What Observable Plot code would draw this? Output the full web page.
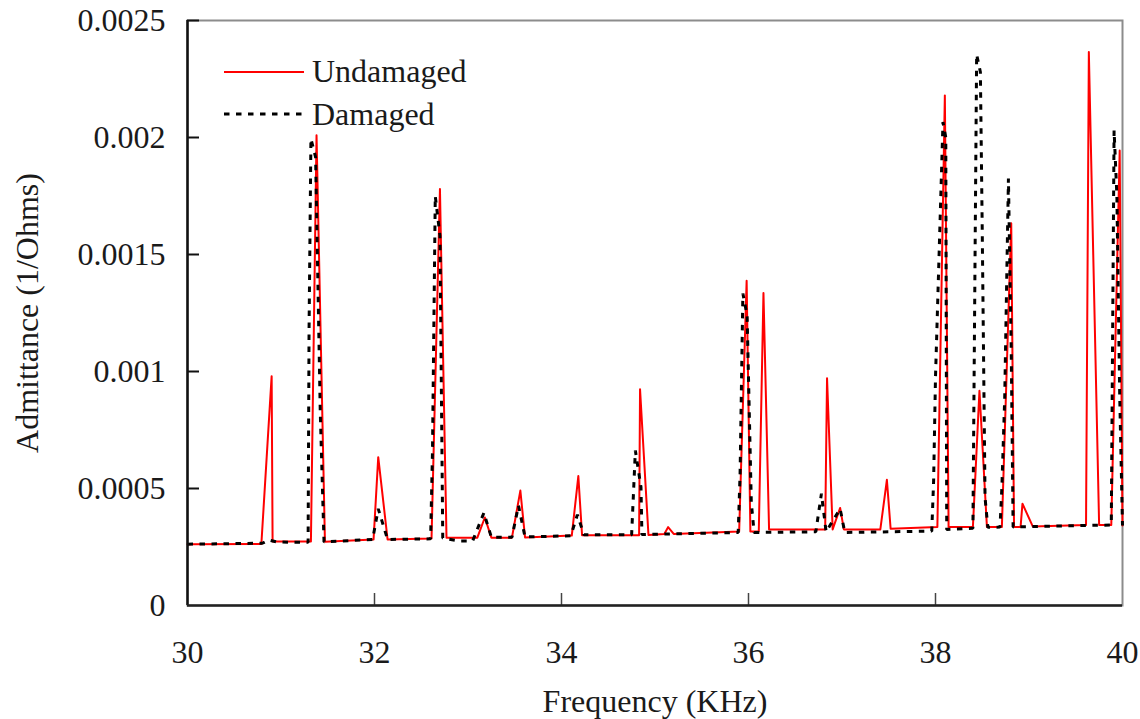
<!DOCTYPE html>
<html><head><meta charset="utf-8">
<script src="https://cdn.jsdelivr.net/npm/d3@7"></script>
<script src="https://cdn.jsdelivr.net/npm/@observablehq/plot@0.6"></script>
<style>
html,body{margin:0;padding:0;background:#fff;}
#wrap{position:relative;width:1140px;height:719px;overflow:hidden;}
#legend{position:absolute;left:220px;top:50px;}
</style></head><body><div id="wrap"></div>
<script>
// ---- data ----
const undamagedFreq = [30.00,30.79,30.90,30.91,31.32,31.38,31.47,31.99,32.04,32.14,32.61,32.70,32.77,33.10,33.18,33.25,33.47,33.56,33.61,34.11,34.18,34.22,34.83,34.84,34.93,35.10,35.14,35.20,35.90,35.98,36.02,36.11,36.16,36.22,36.82,36.84,36.90,36.98,37.02,37.41,37.48,37.52,38.02,38.10,38.14,38.40,38.47,38.55,38.71,38.81,38.84,38.91,38.93,39.04,39.61,39.64,39.75,39.88,39.97,40.00];
const undamagedAdm = [0.000262,0.000263,0.000980,0.000274,0.000274,0.002010,0.000272,0.000282,0.000634,0.000282,0.000286,0.001780,0.000290,0.000290,0.000376,0.000290,0.000290,0.000491,0.000291,0.000299,0.000553,0.000300,0.000300,0.000924,0.000301,0.000306,0.000335,0.000306,0.000316,0.001388,0.000316,0.000316,0.001335,0.000325,0.000325,0.000971,0.000325,0.000417,0.000325,0.000325,0.000537,0.000328,0.000336,0.002180,0.000336,0.000336,0.000918,0.000336,0.000336,0.001634,0.000336,0.000336,0.000435,0.000338,0.000344,0.002365,0.000344,0.000344,0.001944,0.000342];

const damagedFreq = [30.00,30.80,30.87,30.95,31.12,31.29,31.30,31.32,31.37,31.42,31.46,31.98,32.04,32.14,32.60,32.62,32.65,32.70,32.73,32.90,33.05,33.17,33.25,33.47,33.54,33.61,34.10,34.17,34.24,34.75,34.79,34.85,34.86,35.89,35.91,35.94,35.985,36.03,36.06,36.72,36.78,36.83,36.98,37.03,37.96,37.98,38.00,38.08,38.11,38.12,38.40,38.41,38.44,38.48,38.50,38.53,38.56,38.69,38.71,38.74,38.78,38.81,38.83,39.10,39.88,39.91,39.94,39.97,40.00];
const damagedAdm = [0.000262,0.000266,0.000280,0.000272,0.000270,0.000270,0.001175,0.001995,0.001916,0.000826,0.000272,0.000282,0.000413,0.000282,0.000285,0.000655,0.001750,0.001580,0.000288,0.000276,0.000276,0.000396,0.000292,0.000292,0.000427,0.000293,0.000298,0.000388,0.000302,0.000302,0.000662,0.000506,0.000303,0.000312,0.000564,0.001333,0.001240,0.000440,0.000312,0.000315,0.000478,0.000315,0.000413,0.000312,0.000318,0.000534,0.000976,0.002066,0.002000,0.000325,0.000330,0.000826,0.002355,0.002280,0.001600,0.000460,0.000334,0.000335,0.000506,0.000883,0.001825,0.001090,0.000336,0.000338,0.000344,0.002030,0.001750,0.000900,0.000342];

const xTicks = [30,32,34,36,38,40];
const yTicks = [0,0.0005,0.001,0.0015,0.002,0.0025];
const seriesNames = ["Undamaged","Damaged"];
const xTitle = "Frequency (KHz)";
const yTitle = "Admittance (1/Ohms)";

const undamaged = undamagedFreq.map((f,i)=>({f, a: undamagedAdm[i]}));
const damaged = damagedFreq.map((f,i)=>({f, a: damagedAdm[i]}));

const font = "'Liberation Serif','Times New Roman',serif";
const yFmt = d => d === 0 ? "0" : String(parseFloat(d.toFixed(4)));

const chart = Plot.plot({
  width: 1140, height: 719,
  marginLeft: 187, marginRight: 18, marginTop: 20, marginBottom: 114,
  style: {fontFamily: font, fontSize: "32px", color: "#1a1a1a", background: "#fff", overflow: "visible"},
  x: {domain: [xTicks[0], xTicks[xTicks.length-1]]},
  y: {domain: [yTicks[0], yTicks[yTicks.length-1]]},
  marks: [
    Plot.frame({stroke: "#8c8c8c", strokeWidth: 2}),
    Plot.line(undamaged, {x: "f", y: "a", stroke: "#ff0000", strokeWidth: 2}),
    Plot.line(damaged, {x: "f", y: "a", stroke: "#000", strokeWidth: 3, strokeDasharray: "5.5,6.5", strokeLinecap: "butt", strokeLinejoin: "miter"}),
    Plot.ruleX(xTicks.slice(1, -1), {y1: () => yTicks[0], y2: () => yTicks[0], insetTop: -12, stroke: "#444", strokeWidth: 1.5}),
    Plot.ruleY(yTicks.slice(1), {x1: () => xTicks[0], x2: () => xTicks[0], insetRight: -12, stroke: "#111", strokeWidth: 2}),
    Plot.ruleX([xTicks[0]], {stroke: "#111", strokeWidth: 2.5}),
    Plot.ruleY([yTicks[0]], {stroke: "#222", strokeWidth: 2.5}),
    Plot.axisX(xTicks, {tickSize: 0, tickPadding: 35, tickFormat: d => String(d), label: xTitle, labelArrow: "none", labelAnchor: "center", labelOffset: 106, fontSize: 32}),
    Plot.axisY(yTicks, {tickSize: 0, tickPadding: 22, tickFormat: yFmt, label: yTitle, labelArrow: "none", labelAnchor: "center", labelOffset: 172, fontSize: 32})
  ]
});
document.getElementById("wrap").appendChild(chart);

// legend overlay
const leg = d3.select("#wrap").append("svg").attr("id", "legend").attr("width", 280).attr("height", 90)
  .style("font-family", font).style("font-size", "32px");
leg.append("line").attr("x1", 4).attr("x2", 84).attr("y1", 22).attr("y2", 22)
  .attr("stroke", "#ff0000").attr("stroke-width", 2);
leg.append("line").attr("x1", 4).attr("x2", 84).attr("y1", 64).attr("y2", 64)
  .attr("stroke", "#000").attr("stroke-width", 3).attr("stroke-dasharray", "5.5,6.5");
leg.append("text").attr("x", 92).attr("y", 32).attr("fill", "#1a1a1a").text(seriesNames[0]);
leg.append("text").attr("x", 92).attr("y", 75).attr("fill", "#1a1a1a").text(seriesNames[1]);
</script></body></html>
